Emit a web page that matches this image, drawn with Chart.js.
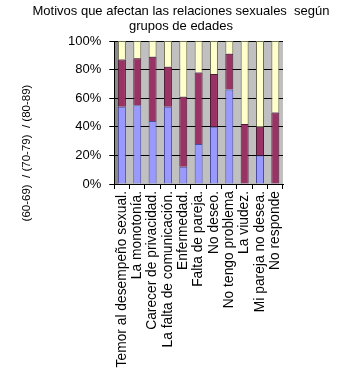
<!DOCTYPE html>
<html lang="es">
<head>
<meta charset="UTF-8">
<title>Motivos que afectan las relaciones sexuales</title>
<script src="https://cdn.jsdelivr.net/npm/chart.js"></script>
<style>
  html, body { margin: 0; padding: 0; background: #FFFFFF; }
  .wrap { width: 339px; height: 383px; position: relative; }
</style>
</head>
<body>
<div class="wrap"><canvas id="motivos"></canvas></div>
<script>
const categories = [
  'Temor al desempeño sexual.', 'La monotonía.', 'Carecer de privacidad.',
  'La falta de comunicación.', 'Enfermedad.', 'Falta de pareja.', 'No deseo.',
  'No tengo problema', 'La viudez.', 'Mi pareja no desea.', 'No responde'
];
const grupo6069 = [54, 55, 44, 54, 12, 28, 40, 66, 0, 20, 0];
const grupo7079 = [33, 33, 45, 28, 49, 50, 37, 25, 42, 20, 50];
const grupo8089 = [13, 12, 11, 18, 39, 22, 23, 9, 58, 60, 50];
const yTicks = [0, 20, 40, 60, 80, 100];
const titleLines = ['Motivos que afectan las relaciones sexuales  según', 'grupos de edades'];
const yTitle = '(60-69)  / (70-79)  / (80-89)';

const FONT = 'Liberation Sans, Arial, sans-serif';

// gray wall behind the bars, plus title and axis caption drawn by hand
const wallPlugin = {
  id: 'wall',
  beforeDraw(chart) {
    const a = chart.chartArea, c = chart.ctx;
    c.save();
    c.fillStyle = '#C0C0C0';
    c.fillRect(a.left, a.top, a.right - a.left, a.bottom - a.top);
    c.fillStyle = '#8A8A8A';
    c.fillRect(a.left, a.top, 4, a.bottom - a.top);
    c.restore();
  },
  afterDraw(chart) {
    const c = chart.ctx;
    c.save();
    c.font = '13px ' + FONT;
    c.fillStyle = '#000';
    c.textAlign = 'center';
    c.textBaseline = 'middle';
    c.fillText(titleLines[0], 181, 11);
    c.fillText(titleLines[1], 181, 26);
    c.translate(27, 153);
    c.rotate(-Math.PI / 2);
    c.font = '11.5px ' + FONT;
    c.fillText(yTitle, 0, 0);
    c.restore();
  }
};

new Chart(document.getElementById('motivos'), {
  type: 'bar',
  data: {
    labels: categories,
    datasets: [
      { label: '(60-69)', data: grupo6069, backgroundColor: '#9999FF', borderColor: '#4B4B9E', borderWidth: 1 },
      { label: '(70-79)', data: grupo7079, backgroundColor: '#993366', borderColor: '#4D1A33', borderWidth: 1 },
      { label: '(80-89)', data: grupo8089, backgroundColor: '#FFFFCC', borderColor: '#6E6E50', borderWidth: 1 }
    ]
  },
  options: {
    responsive: true,
    maintainAspectRatio: false,
    animation: false,
    barPercentage: 0.52,
    categoryPercentage: 1,
    layout: { padding: { left: 60, right: 56, top: 41, bottom: 14 } },
    scales: {
      x: {
        stacked: true,
        afterFit(axis) { axis.height = 185; },
        border: { color: '#000' },
        grid: { display: true, offset: true, drawOnChartArea: false, color: '#000', tickLength: 5 },
        ticks: { color: '#000', font: { family: FONT, size: 13.8 }, minRotation: 90, maxRotation: 90, autoSkip: false, padding: 2 }
      },
      y: {
        stacked: true,
        min: 0, max: 100,
        afterBuildTicks(axis) { axis.ticks = yTicks.map(v => ({ value: v })); },
        border: { color: '#000' },
        grid: { color: '#000', tickLength: 5 },
        ticks: { color: '#000', font: { family: FONT, size: 13 }, padding: 8, callback: v => v + '%' }
      }
    },
    plugins: {
      legend: { display: false },
      tooltip: { enabled: false },
      title: { display: false }
    }
  },
  plugins: [wallPlugin]
});
</script>
</body>
</html>
